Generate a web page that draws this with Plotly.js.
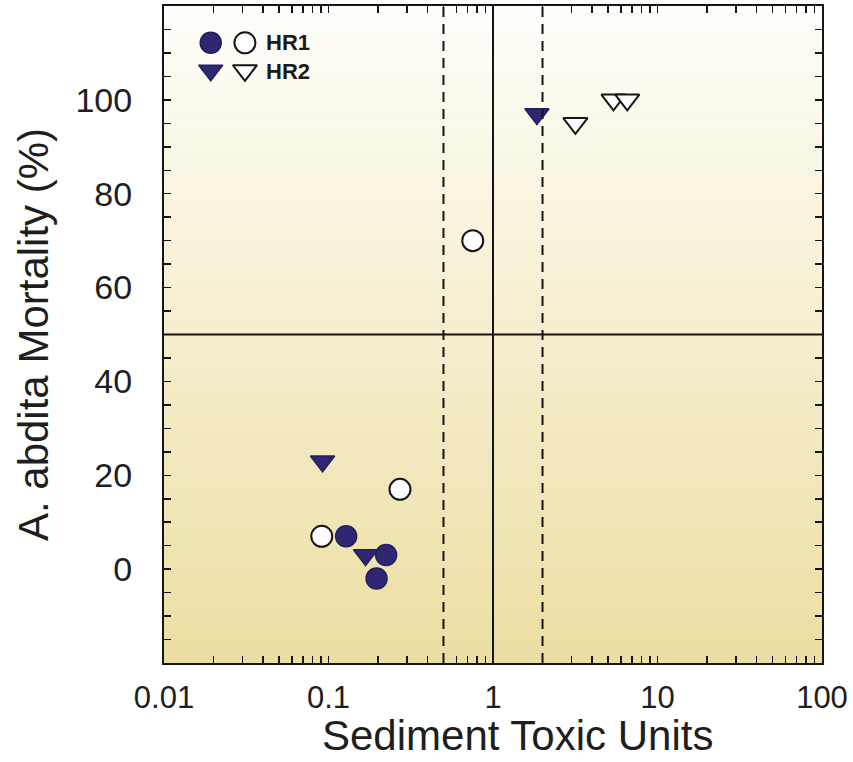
<!DOCTYPE html>
<html>
<head>
<meta charset="utf-8">
<script src="https://cdn.plot.ly/plotly-3.0.1.min.js"></script>
<style>
  html, body { margin: 0; padding: 0; background: #ffffff; }
  #chart { width: 853px; height: 762px; }
</style>
</head>
<body>
<div id="chart"></div>
<script>
// Sediment toxic units vs. A. abdita mortality, sites HR1 and HR2
const hr1FilledTU   = [0.128, 0.224, 0.196];
const hr1FilledMort = [7, 3, -2];
const hr1OpenTU     = [0.091, 0.272, 0.753];
const hr1OpenMort   = [7, 17, 70];

const hr2FilledTU   = [0.092, 0.168, 1.85];
const hr2FilledMort = [23, 3, 97];
const hr2OpenTU     = [3.17, 5.40, 6.55];
const hr2OpenMort   = [95, 100, 100];

// reference lines: TU thresholds and 50 % mortality
const tuDashed = [0.5, 2];
const tuSolid = [1];
const mortalityRef = [50];

// axis ticks
const xDecades = [0.01, 0.1, 1, 10, 100];
const xDecadeLabels = ['0.01', '0.1', '1', '10', '100'];
const yLabelled = [0, 20, 40, 60, 80, 100];
const yRange = [-20, 120];
const xRange = [0.01, 100];

const xTitle = 'Sediment Toxic Units';
const yTitle = 'A. abdita Mortality (%)';

const NAVY = '#2e2873';
const INK = '#151515';
const FONT = 'Liberation Sans, Arial, Helvetica, sans-serif';

// tick positions: 1..9 inside every decade, labels only on the decades
const xTickVals = [], xTickText = [];
xDecades.forEach((d, i) => {
  const last = i === xDecades.length - 1;
  for (let m = 1; m <= (last ? 1 : 9); m++) {
    xTickVals.push(d * m);
    xTickText.push(m === 1 ? xDecadeLabels[i] : '');
  }
});
const yTickVals = [], yTickText = [];
for (let v = yRange[0]; v <= yRange[1]; v += 5) {
  yTickVals.push(v);
  yTickText.push(yLabelled.includes(v) ? String(v) : '');
}

const circleOpen = { symbol: 'circle', size: 21, color: '#ffffff', line: { color: INK, width: 2 } };
const circleFilled = { symbol: 'circle', size: 21, color: NAVY, line: { color: '#231f5e', width: 1.5 } };
const triOpen = { symbol: 'triangle-down', size: 21, color: '#ffffff', line: { color: INK, width: 2 } };
const triFilled = { symbol: 'triangle-down', size: 21, color: NAVY, line: { color: '#231f5e', width: 1.5 } };

const traces = [
  { x: hr1OpenTU, y: hr1OpenMort, mode: 'markers', marker: circleOpen, name: 'HR1 open' },
  { x: hr1FilledTU, y: hr1FilledMort, mode: 'markers', marker: circleFilled, name: 'HR1' },
  { x: hr2FilledTU, y: hr2FilledMort, mode: 'markers', marker: triFilled, name: 'HR2' },
  { x: hr2OpenTU, y: hr2OpenMort, mode: 'markers', marker: triOpen, name: 'HR2 open' },
  // key symbols, drawn on a hidden 0..1 overlay axis
  { x: [0.071, 0.123], y: [0.944, 0.944], xaxis: 'x2', yaxis: 'y2', mode: 'markers',
    marker: { symbol: 'circle', size: 21, color: [NAVY, '#ffffff'],
              line: { color: ['#231f5e', INK], width: [1.5, 2] } }, hoverinfo: 'skip' },
  { x: [0.071, 0.123], y: [0.902, 0.902], xaxis: 'x2', yaxis: 'y2', mode: 'markers',
    marker: { symbol: 'triangle-down', size: 21, color: [NAVY, '#ffffff'],
              line: { color: ['#231f5e', INK], width: [1.5, 2] } }, hoverinfo: 'skip' }
];

// vertical gradient behind the plotting area
const shapes = [];
const N = 90;
const gradTop = [255, 254, 250], gradBottom = [236, 222, 162];
for (let i = 0; i < N; i++) {
  const t = (i + 0.5) / N;
  const c = gradTop.map((v, k) => Math.round(v + (gradBottom[k] - v) * t));
  shapes.push({
    type: 'rect', xref: 'paper', yref: 'paper', layer: 'below',
    x0: 0, x1: 1, y0: 1 - (i + 1) / N, y1: 1 - i / N + 0.001,
    fillcolor: `rgb(${c[0]},${c[1]},${c[2]})`, line: { width: 0 }
  });
}
tuDashed.forEach(v => shapes.push({
  type: 'line', xref: 'x', yref: 'paper', x0: v, x1: v, y0: 0, y1: 1,
  line: { color: INK, width: 2, dash: '10px,7px' }
}));
tuSolid.forEach(v => shapes.push({
  type: 'line', xref: 'x', yref: 'paper', x0: v, x1: v, y0: 0, y1: 1,
  line: { color: INK, width: 2 }
}));
mortalityRef.forEach(v => shapes.push({
  type: 'line', xref: 'paper', yref: 'y', x0: 0, x1: 1, y0: v, y1: v,
  line: { color: INK, width: 2 }
}));

const axisCommon = {
  showgrid: false, zeroline: false, showline: true, linecolor: INK, linewidth: 2,
  mirror: 'allticks', ticks: 'inside', ticklen: 7, tickwidth: 1.5, tickcolor: INK
};

const layout = {
  width: 853, height: 762,
  margin: { l: 164, r: 31, t: 6, b: 99 },
  paper_bgcolor: '#ffffff', plot_bgcolor: 'rgba(0,0,0,0)',
  showlegend: false,
  xaxis: Object.assign({}, axisCommon, {
    type: 'log', range: xRange.map(Math.log10),
    tickmode: 'array', tickvals: xTickVals, ticktext: xTickText,
    tickfont: { family: FONT, size: 31, color: '#1e1e1e' },
    ticklabelstandoff: 6
  }),
  yaxis: Object.assign({}, axisCommon, {
    range: yRange, tickmode: 'array', tickvals: yTickVals, ticktext: yTickText,
    tickfont: { family: FONT, size: 34, color: '#1e1e1e' },
    ticklabelstandoff: 23,
    title: { text: yTitle, font: { family: FONT, size: 42, color: '#1e1e1e' }, standoff: 14 }
  }),
  xaxis2: { overlaying: 'x', anchor: 'y2', range: [0, 1], visible: false },
  yaxis2: { overlaying: 'y', anchor: 'x2', range: [0, 1], visible: false },
  shapes: shapes,
  annotations: [
    // x-axis title, set a little right of the axis centre
    { xref: 'paper', yref: 'paper', x: 0.5365, y: -0.1495, xanchor: 'center', yanchor: 'bottom',
      text: xTitle, showarrow: false, font: { family: FONT, size: 42, color: '#1e1e1e' } },
    { xref: 'paper', yref: 'paper', x: 0.152, y: 0.944, xanchor: 'left', yanchor: 'middle',
      text: '<b>HR1</b>', showarrow: false, font: { family: FONT, size: 22, color: '#1a1a1a' } },
    { xref: 'paper', yref: 'paper', x: 0.152, y: 0.9, xanchor: 'left', yanchor: 'middle',
      text: '<b>HR2</b>', showarrow: false, font: { family: FONT, size: 22, color: '#1a1a1a' } }
  ]
};

Plotly.newPlot('chart', traces, layout, { displayModeBar: false, staticPlot: true });
</script>
</body>
</html>
